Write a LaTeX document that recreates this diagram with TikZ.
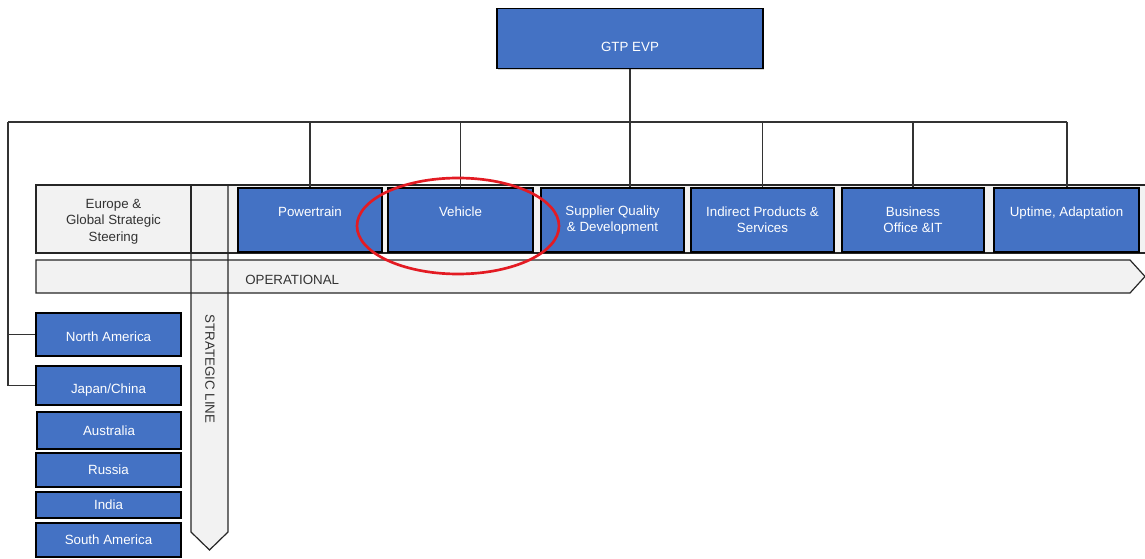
\documentclass[tikz,border=0pt]{standalone}
\usepackage{fontspec}
\setmainfont{Liberation Sans}
\usetikzlibrary{shadows}
\definecolor{boxblue}{HTML}{4472C4}
\definecolor{lightgray}{HTML}{F2F2F2}
\definecolor{darktext}{HTML}{333333}
\definecolor{ringred}{HTML}{E31B23}
\tikzset{
  bluebox/.style={draw=black, line width=1.3pt, fill=boxblue, text=white,
    font=\fontsize{10pt}{12pt}\selectfont, align=center, inner sep=0pt,
    drop shadow={shadow xshift=0.8pt, shadow yshift=-0.8pt, fill=black!35, opacity=0.5}},
  bluetext/.style={text=white, font=\fontsize{10pt}{12pt}\selectfont, align=center, inner sep=0pt},
  graycell/.style={draw=black!85, line width=0.9pt, fill=lightgray, inner sep=0pt},
  graytext/.style={text=darktext, font=\fontsize{10pt}{12.3pt}\selectfont, align=center, inner sep=0pt},
  grayshape/.style={fill=lightgray},
  grayline/.style={draw=black!85, line width=0.9pt},
  conn/.style={draw=black!80, line width=0.9pt},
  plain/.style={text=darktext, font=\fontsize{10pt}{12pt}\selectfont, inner sep=0pt},
}
\begin{document}
\begin{tikzpicture}[x=0.75pt, y=-0.75pt]
\useasboundingbox (0,0) rectangle (1145,559);
\fill[white] (0,0) rectangle (1145,559);

% gray backgrounds
\fill[grayshape] (36,185) rectangle (1150,253);
\fill[grayshape] (36,260) -- (1130,260) -- (1145,276.5) -- (1130,293) -- (36,293) -- cycle;
\fill[grayshape] (191,185) -- (228,185) -- (228,532) -- (209.5,550) -- (191,532) -- cycle;
% outlines
\draw[grayline] (36,185) rectangle (1150,253);
\draw[grayline] (36,260) -- (1130,260) -- (1145,276.5) -- (1130,293) -- (36,293) -- cycle;
\draw[grayline] (191,185) -- (228,185) -- (228,532) -- (209.5,550) -- (191,532) -- cycle;

% Europe cell
\node[graycell, minimum width=116.25pt, minimum height=51pt,
  label={[graytext, yshift=-2pt]center:Europe \&\\Global Strategic\\Steering}] (eu) at (113.5,219) {};

% labels of arrows
\node[plain, anchor=west] (op) at (245,280) {OPERATIONAL};
\node[plain, rotate=-90] (sl) at (210,369) {STRATEGIC LINE};

% top box
\node[bluebox, minimum width=199.5pt, minimum height=45pt,
  label={[bluetext, yshift=-6pt]center:GTP EVP}] (gtp) at (630,38.5) {};

% row boxes
\node[bluebox, minimum width=108pt, minimum height=48pt] (pt) at (310,220) {Powertrain\\\mbox{}};
\node[bluebox, minimum width=108.75pt, minimum height=48pt] (veh) at (460.5,220) {Vehicle\\\mbox{}};
\node[bluebox, minimum width=107.25pt, minimum height=48pt] (sup) at (612.5,220) {Supplier Quality\\\& Development};
\node[bluebox, minimum width=107.25pt, minimum height=48pt] (ind) at (762.5,220) {Indirect Products \&\\Services};
\node[bluebox, minimum width=106.5pt, minimum height=48pt] (bus) at (913,220) {Business\\Office \&IT};
\node[bluebox, minimum width=108.75pt, minimum height=48pt] (up) at (1066.5,220) {Uptime, Adaptation\\\mbox{}};

% region boxes
\node[bluebox, minimum width=108.75pt, minimum height=32.5pt,
  label={[bluetext, yshift=-2pt]center:North America}] (na) at (108.5,334.5) {};
\node[bluebox, minimum width=108.75pt, minimum height=29.5pt,
  label={[bluetext, yshift=-3.5pt]center:Japan/China}] (jc) at (108.5,385.5) {};
\node[bluebox, minimum width=108pt, minimum height=27.75pt] (au) at (109,430.5) {Australia};
\node[bluebox, minimum width=108.75pt, minimum height=25.5pt] (ru) at (108.5,470) {Russia};
\node[bluebox, minimum width=108.75pt, minimum height=19.5pt] (in) at (108.5,505) {India};
\node[bluebox, minimum width=108.75pt, minimum height=25.5pt] (sa) at (108.5,540) {South America};

% connectors
\coordinate (busL) at (8,122);
\coordinate (busR) at (1067,122);
\draw[conn] (busL) -- (busR);
\draw[conn] (gtp.south) -- (gtp.south |- sup.north);
\draw[conn] (pt.north) -- (pt.north |- busR);
\draw[conn] (veh.north) -- (veh.north |- busR);
\draw[conn] (ind.north) -- (ind.north |- busR);
\draw[conn] (bus.north) -- (bus.north |- busR);
\draw[conn] (busR) -- (busR |- up.north);
\draw[conn] (busL) -- (busL |- jc.west) -- (jc.west);
\draw[conn] (busL |- na.west) -- (na.west);

% red ring
\draw[ringred, line width=2pt] (458,226) ellipse [x radius=75.75pt, y radius=36pt];
\end{tikzpicture}
\end{document}
